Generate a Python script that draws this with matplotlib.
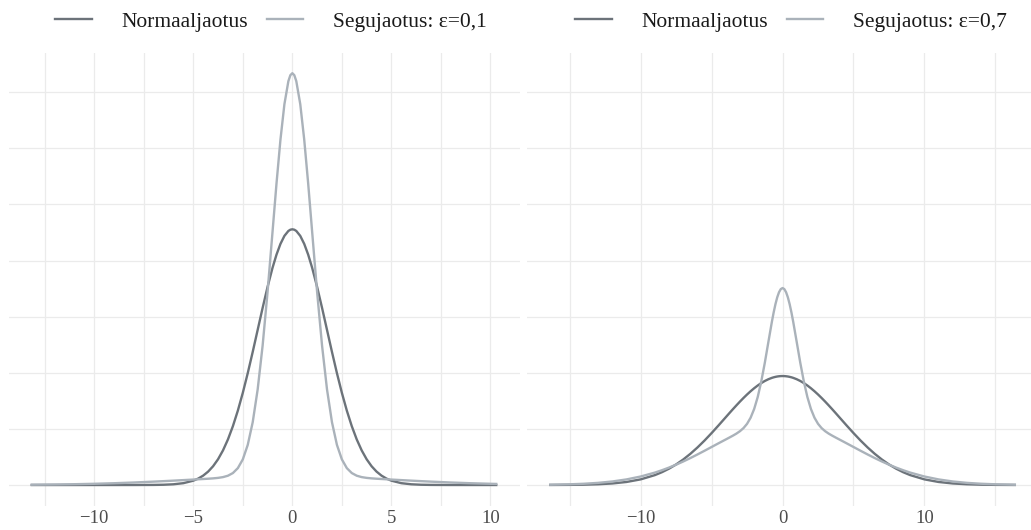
import matplotlib
matplotlib.use("Agg")
import matplotlib.pyplot as plt

# ---- data ----
left_x = [-13.15, -12, -11, -10, -9, -8, -7, -6.5, -6, -5.5, -5, -4.75, -4.5, -4.25, -4, -3.75, -3.5,
          -3.25, -3, -2.75, -2.5, -2.25, -2, -1.75, -1.5, -1.25, -1, -0.8, -0.6, -0.4, -0.2, -0.1,
          0,
          0.1, 0.2, 0.4, 0.6, 0.8, 1, 1.25, 1.5, 1.75, 2, 2.25, 2.5, 2.75, 3, 3.25, 3.5, 3.75, 4, 4.25,
          4.5, 4.75, 5, 5.5, 6, 6.5, 7, 8, 9, 10, 10.29]
left_normal = [0, 0, 0, 0, 0, 0.00001, 0.00008, 0.00023, 0.00064, 0.00163, 0.00385, 0.00573, 0.00836,
               0.01194, 0.01672, 0.02294, 0.03084, 0.04063, 0.05244, 0.06630, 0.08214, 0.09972, 0.11861,
               0.13823, 0.15783, 0.17658, 0.19357, 0.20529, 0.21489, 0.22202, 0.22642, 0.22753,
               0.2279,
               0.22753, 0.22642, 0.22202, 0.21489, 0.20529, 0.19357, 0.17658, 0.15783, 0.13823, 0.11861,
               0.09972, 0.08214, 0.06630, 0.05244, 0.04063, 0.03084, 0.02294, 0.01672, 0.01194, 0.00836,
               0.00573, 0.00385, 0.00163, 0.00064, 0.00023, 0.00008, 0.00001, 0, 0, 0]
left_mix = [0.00025, 0.00045, 0.00071, 0.00108, 0.00158, 0.00222, 0.00300, 0.00343, 0.00388, 0.00436,
            0.00484, 0.00509, 0.00534, 0.00560, 0.00591, 0.00634, 0.00703, 0.00828, 0.01065, 0.01504,
            0.02282, 0.03578, 0.05596, 0.08516, 0.12420, 0.17211, 0.22560, 0.26860, 0.30782, 0.33940,
            0.35991, 0.36524,
            0.36703,
            0.36524, 0.35991, 0.33940, 0.30782, 0.26860, 0.22560, 0.17211, 0.12420, 0.08516, 0.05596,
            0.03578, 0.02282, 0.01504, 0.01065, 0.00828, 0.00703, 0.00634, 0.00591, 0.00560, 0.00534,
            0.00509, 0.00484, 0.00436, 0.00388, 0.00343, 0.00300, 0.00222, 0.00158, 0.00108, 0.00096]

right_x = [-16.37, -15, -14, -13, -12, -11, -10, -9, -8.5, -8, -7.5, -7, -6.5, -6, -5.5, -5, -4.5, -4,
           -3.75, -3.5, -3.25, -3, -2.75, -2.5, -2.25, -2, -1.75, -1.5, -1.25, -1, -0.75, -0.625, -0.5,
           -0.375, -0.25, -0.125,
           0,
           0.125, 0.25, 0.375, 0.5, 0.625, 0.75, 1, 1.25, 1.5, 1.75, 2, 2.25, 2.5, 2.75, 3, 3.25, 3.5,
           3.75, 4, 4.5, 5, 5.5, 6, 6.5, 7, 7.5, 8, 8.5, 9, 10, 11, 12, 13, 14, 15, 16.37]
right_normal = [0.00003, 0.00012, 0.00029, 0.00065, 0.00136, 0.00269, 0.00501, 0.00880, 0.01141, 0.01457,
                0.01833, 0.02273, 0.02776, 0.03341, 0.03961, 0.04628, 0.05328, 0.06043, 0.06401, 0.06754,
                0.07100, 0.07437, 0.07760, 0.08068, 0.08357, 0.08624, 0.08867, 0.09084, 0.09271, 0.09426,
                0.09549, 0.09598, 0.09638, 0.09670, 0.09692, 0.09706,
                0.0971,
                0.09706, 0.09692, 0.09670, 0.09638, 0.09598, 0.09549, 0.09426, 0.09271, 0.09084, 0.08867,
                0.08624, 0.08357, 0.08068, 0.07760, 0.07437, 0.07100, 0.06754, 0.06401, 0.06043, 0.05328,
                0.04628, 0.03961, 0.03341, 0.02776, 0.02273, 0.01833, 0.01457, 0.01141, 0.00880, 0.00501,
                0.00269, 0.00136, 0.00065, 0.00029, 0.00012, 0.00003]
right_mix = [0.00026, 0.00062, 0.00111, 0.00190, 0.00314, 0.00497, 0.00756, 0.01105, 0.01317, 0.01553,
             0.01813, 0.02096, 0.02399, 0.02719, 0.03050, 0.03388, 0.03726, 0.04060, 0.04227, 0.04398,
             0.04582, 0.04798, 0.05074, 0.05455, 0.06000, 0.06776, 0.07841, 0.09224, 0.10892, 0.12734,
             0.14557, 0.15387, 0.16119, 0.16725, 0.17178, 0.17459,
             0.17553,
             0.17459, 0.17178, 0.16725, 0.16119, 0.15387, 0.14557, 0.12734, 0.10892, 0.09224, 0.07841,
             0.06776, 0.06000, 0.05455, 0.05074, 0.04798, 0.04582, 0.04398, 0.04227, 0.04060, 0.03726,
             0.03388, 0.03050, 0.02719, 0.02399, 0.02096, 0.01813, 0.01553, 0.01317, 0.01105, 0.00756,
             0.00497, 0.00314, 0.00190, 0.00111, 0.00062, 0.00026]

label_normal = "Normaaljaotus"
label_mix_left = "Segujaotus: ε=0,1"
label_mix_right = "Segujaotus: ε=0,7"

left_major = [-10, -5, 0, 5, 10]
left_minor = [-12.5, -7.5, -2.5, 2.5, 7.5]
right_major = [-10, 0, 10]
right_minor = [-15, -5, 5, 15]
y_major = [0, 0.1, 0.2, 0.3]
y_minor = [0.05, 0.15, 0.25, 0.35]

# ---- style ----
plt.rcParams['font.family'] = ['Liberation Serif', 'DejaVu Serif']
c_normal = '#6c737a'
c_mix = '#aab2ba'
grid_c = '#ebebeb'

W, H = 1031, 530
fig = plt.figure(figsize=(W / 100, H / 100), dpi=100)

def px_axes(x0, x1, y0, y1):
    return fig.add_axes([x0 / W, 1 - y1 / H, (x1 - x0) / W, (y1 - y0) / H])

ax1 = px_axes(9, 520, 52.6, 505.6)
ax2 = px_axes(527, 1031, 52.6, 505.6)

def setup(ax, xs, normal, mix, mixlabel, xlim, major, minor, legx):
    ax.plot(xs, normal, color=c_normal, lw=1.7, label=label_normal, zorder=3,
            solid_joinstyle='round')
    ax.plot(xs, mix, color=c_mix, lw=1.7, label=mixlabel, zorder=3, solid_joinstyle='round')
    ax.set_xlim(*xlim)
    ax.set_ylim(-0.01836, 0.38538)
    ax.set_xticks(major)
    ax.set_xticklabels([("\u2212%d" % -v) if v < 0 else "%d" % v for v in major])
    ax.set_xticks(minor, minor=True)
    ax.set_yticks(y_major)
    ax.set_yticks(y_minor, minor=True)
    ax.set_yticklabels([])
    ax.grid(True, which='both', color=grid_c, lw=0.9, zorder=0)
    ax.set_axisbelow(True)
    for s in ax.spines.values():
        s.set_visible(False)
    ax.tick_params(which='both', length=0)
    ax.tick_params(axis='x', labelsize=13.5, colors='#4d4d4d', pad=3)
    leg = ax.legend(loc='center', bbox_to_anchor=(legx, 1.0676), ncol=2, frameon=False,
                    fontsize=15.5, handlelength=1.7, handletextpad=1.4, columnspacing=0.85,
                    borderpad=0, borderaxespad=0)
    for t in leg.get_texts():
        t.set_color('#1a1a1a')

setup(ax1, left_x, left_normal, left_mix, label_mix_left, (-14.30, 11.49), left_major, left_minor, 0.5127)
setup(ax2, right_x, right_normal, right_mix, label_mix_right, (-18.01, 17.51), right_major, right_minor, 0.524)

fig.savefig("out.png", dpi=100)
